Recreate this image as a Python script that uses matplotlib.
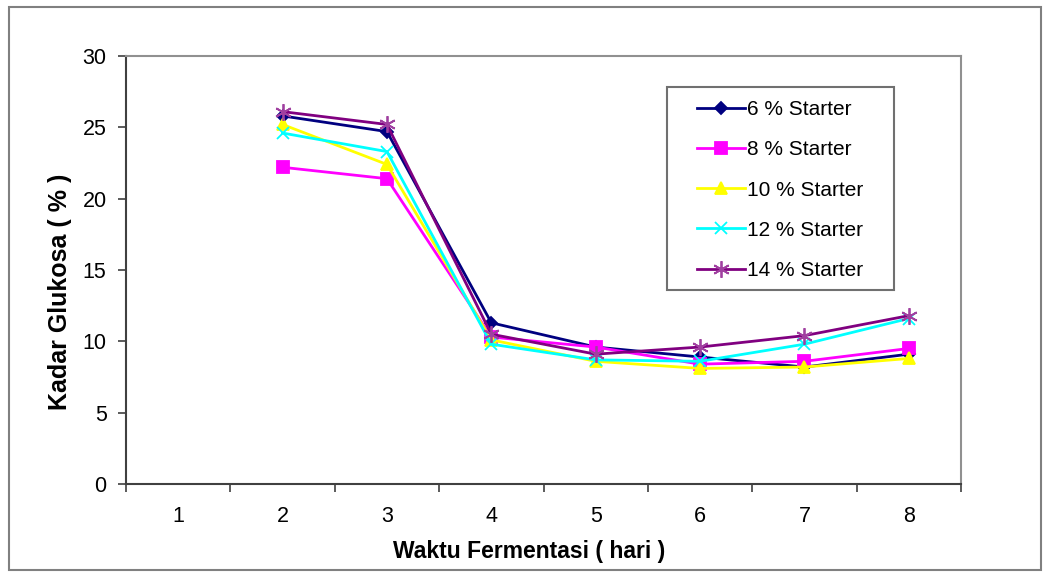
import matplotlib.pyplot as plt
from matplotlib.patches import Rectangle

plt.rcParams["font.family"] = ["Liberation Sans", "DejaVu Sans"]

days = [1, 2, 3, 4, 5, 6, 7, 8]
# day 1 has no measurement
s6 = [None, 25.8, 24.7, 11.3, 9.6, 8.9, 8.2, 9.1]
s8 = [None, 22.2, 21.4, 10.3, 9.6, 8.4, 8.6, 9.5]
s10 = [None, 25.2, 22.4, 10.1, 8.6, 8.1, 8.2, 8.8]
s12 = [None, 24.6, 23.3, 9.8, 8.7, 8.6, 9.8, 11.6]
s14 = [None, 26.1, 25.2, 10.5, 9.1, 9.6, 10.4, 11.8]
labels = ["6 % Starter", "8 % Starter", "10 % Starter", "12 % Starter", "14 % Starter"]

W, H = 1046, 573
fig = plt.figure(figsize=(W / 100, H / 100), dpi=100)
ax = fig.add_axes([126 / W, 1 - 484 / H, 835 / W, 428 / H])

# outer chart border
fig.patches.append(Rectangle((9 / W, 3 / H), 1032 / W, 563 / H,
                             transform=fig.transFigure, fill=False,
                             edgecolor="#808080", linewidth=1.5))


def pts(vals):
    xs = [d for d, v in zip(days, vals) if v is not None]
    ys = [v for v in vals if v is not None]
    return xs, ys


styles = [
    (s6, "#000080", "D", 6, "#000080"),
    (s8, "#FF00FF", "s", 9, "#FF00FF"),
    (s10, "#FFFF00", "^", 9, "#FFFF00"),
    (s12, "#00FFFF", "x", 9, "#00FFFF"),
    (s14, "#800080", (6, 2, 0), 12, "#A040A0"),
]
for (vals, col, mk, ms, mcol), lab in zip(styles, labels):
    xs, ys = pts(vals)
    ax.plot(xs, ys, color=col, linewidth=2, marker=mk, markersize=ms,
            markerfacecolor=mcol, markeredgecolor=mcol, markeredgewidth=1.3,
            label=lab)

ax.set_xlim(0.5, 8.5)
ax.set_ylim(0, 30)
ax.set_yticks([0, 5, 10, 15, 20, 25, 30])
ax.set_xticks(days)
ax.set_xticks([d + 0.5 for d in range(0, 9)], minor=True)
ax.tick_params(axis="x", which="major", length=0, pad=16, labelsize=15.5)
ax.tick_params(axis="x", which="minor", length=6, width=1.2, color="#404040",
               direction="out")
ax.tick_params(axis="y", length=6, width=1.2, color="#404040", pad=8,
               labelsize=15.5)

for side in ["left", "bottom"]:
    ax.spines[side].set_color("#404040")
    ax.spines[side].set_linewidth(1.5)
for side in ["top", "right"]:
    ax.spines[side].set_color("#909090")
    ax.spines[side].set_linewidth(1.5)

ax.set_xlabel("Waktu Fermentasi ( hari )", fontsize=16.5, fontweight="bold")
ax.xaxis.set_label_coords((529 - 126) / 835, -(540 - 484) / 428)
ax.set_ylabel("Kadar Glukosa ( % )", fontsize=18, fontweight="bold")
ax.yaxis.set_label_coords(-(126 - 72) / 835, (484 - 292) / 428)

# legend box drawn separately, legend entries placed inside it
fig.patches.append(Rectangle((667 / W, 1 - 290 / H), 227 / W, 203 / H,
                             transform=fig.transFigure, fill=False,
                             edgecolor="#707070", linewidth=1.5, zorder=5))
ax.legend(loc="upper left", bbox_to_anchor=(697 / W, 1 - 100 / H),
          bbox_transform=fig.transFigure, fontsize=15, frameon=False,
          borderpad=0, borderaxespad=0, labelspacing=1.02,
          handlelength=2.3, handletextpad=0.1)

plt.savefig("out.png", dpi=100)
